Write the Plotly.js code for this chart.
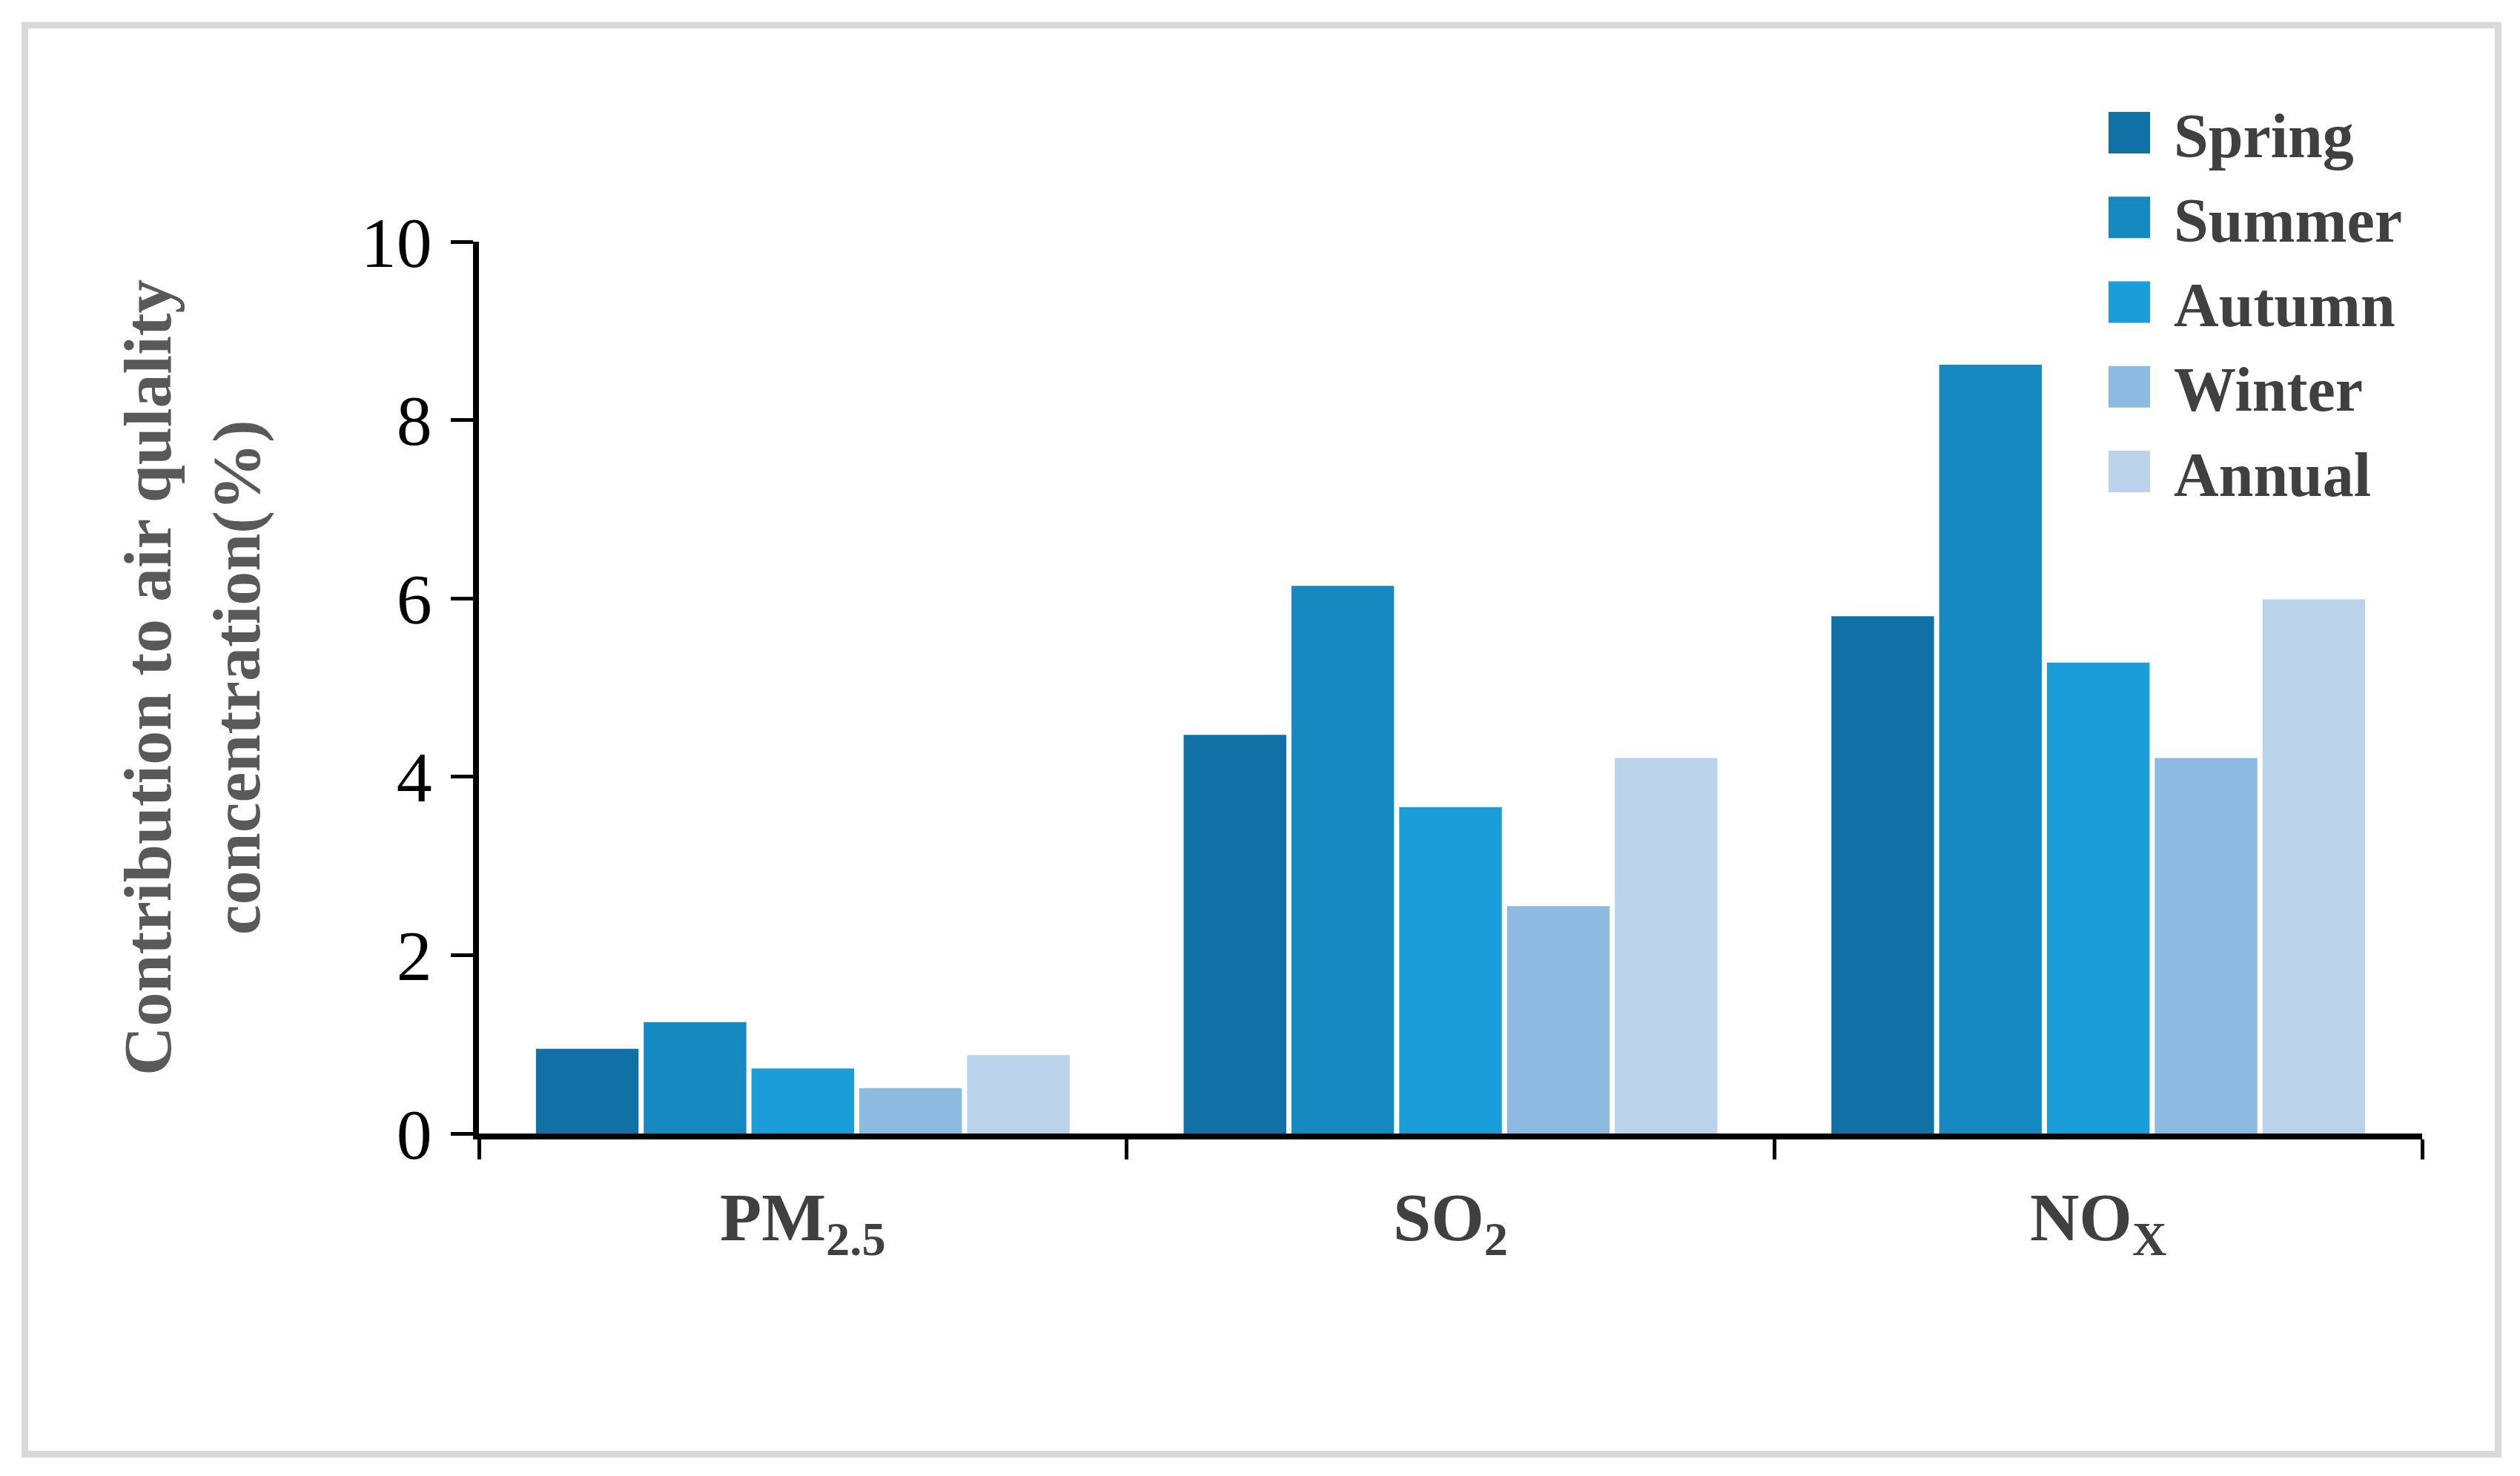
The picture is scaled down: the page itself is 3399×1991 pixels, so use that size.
<!DOCTYPE html>
<html>
<head>
<meta charset="utf-8">
<script src="https://cdn.plot.ly/plotly-3.0.1.min.js"></script>
<style>html,body{margin:0;padding:0;background:#fff;}</style>
</head>
<body>
<div id="chart" style="width:3399px;height:1991px;"></div>
<script>
// ---- data ----
const categories = ["PM<sub>2.5</sub>", "SO<sub>2</sub>", "NO<sub>X</sub>"];
const seriesNames = ["Spring", "Summer", "Autumn", "Winter", "Annual"];
const spring = [0.95, 4.47, 5.80];
const summer = [1.25, 6.14, 8.62];
const autumn = [0.73, 3.66, 5.28];
const winter = [0.51, 2.55, 4.21];
const annual = [0.88, 4.21, 5.99];
const yTicks = [0, 2, 4, 6, 8, 10];
const yTitle = "Contribution to air qulality<br>concentration(%)";

const seriesValues = [spring, summer, autumn, winter, annual];
const colors = ["#1170A6", "#1789C1", "#1A9DD9", "#8CBAE1", "#BAD3EA"];

const traces = seriesNames.map((name, i) => ({
  type: "bar",
  name: name,
  x: categories,
  y: seriesValues[i],
  marker: { color: colors[i], line: { width: 0 } },
  legendgroup: "g" + i,
  hoverinfo: "skip"
}));

const W = 3399, H = 1991;
const L = 646, R = 3267, T = 326, B = 1529;
const px2x = p => (p - L) / (R - L);
const px2y = p => (B - p) / (B - T);

const serif = "Liberation Serif, Times New Roman, serif";

const layout = {
  width: W, height: H,
  margin: { l: L, r: W - R, t: T, b: H - B, pad: 0 },
  paper_bgcolor: "#ffffff",
  plot_bgcolor: "#ffffff",
  barmode: "group",
  bargap: 0.168,
  bargroupgap: 0.048,
  showlegend: true,
  legend: {
    x: px2x(2812), xanchor: "left",
    y: px2y(118), yanchor: "top",
    font: { family: serif, size: 84, color: "#404040", weight: "bold" },
    itemwidth: 110,
    traceorder: "grouped",
    tracegroupgap: 2,
    bgcolor: "rgba(0,0,0,0)",
    borderwidth: 0
  },
  xaxis: {
    type: "category",
    showgrid: false,
    zeroline: false,
    showline: true,
    linecolor: "#000000",
    linewidth: 8,
    ticks: "outside",
    tickson: "boundaries",
    ticklen: 27,
    tickwidth: 5,
    tickcolor: "#000000",
    tickfont: { family: serif, size: 92, color: "#404040", weight: "bold" },
    ticklabelstandoff: 26,
    fixedrange: true
  },
  yaxis: {
    range: [0, 10],
    tickvals: yTicks,
    ticktext: yTicks.map(String),
    showgrid: false,
    zeroline: false,
    showline: true,
    linecolor: "#000000",
    linewidth: 8,
    ticks: "outside",
    ticklen: 30,
    tickwidth: 5,
    tickcolor: "#000000",
    tickfont: { family: serif, size: 96, color: "#000000" },
    ticklabelstandoff: 6,
    fixedrange: true
  },
  annotations: [{
    text: yTitle,
    xref: "paper", yref: "paper",
    x: px2x(259), y: px2y(914),
    xanchor: "center", yanchor: "middle",
    textangle: -90,
    showarrow: false,
    align: "center",
    font: { family: serif, size: 92, color: "#595959", weight: "bold" }
  }],
  shapes: [{
    type: "rect",
    xref: "paper", yref: "paper",
    x0: px2x(33.5), x1: px2x(3369.5),
    y0: px2y(1961.5), y1: px2y(34),
    line: { color: "#d9d9d9", width: 9 },
    fillcolor: "rgba(0,0,0,0)",
    layer: "below"
  }]
};

Plotly.newPlot("chart", traces, layout, { displayModeBar: false, staticPlot: true }).then(gd => {
  // enlarge legend swatches to match the reference's big squares
  gd.querySelectorAll(".legend .legendpoints path").forEach(p => {
    p.setAttribute("d", "M28,28H-28V-28H28Z");
  });
});
</script>
</body>
</html>
